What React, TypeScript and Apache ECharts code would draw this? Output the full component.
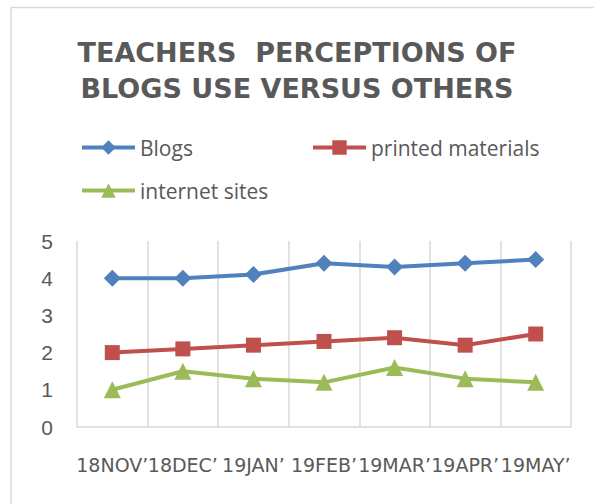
import React, { useEffect, useRef } from "react";
import * as echarts from "echarts";

const categories = ["18NOV’", "18DEC’", "19JAN’", "19FEB’", "19MAR’", "19APR’", "19MAY’"];
const blogs = [4.0, 4.0, 4.1, 4.4, 4.3, 4.4, 4.5];
const printedMaterials = [2.0, 2.1, 2.2, 2.3, 2.4, 2.2, 2.5];
const internetSites = [1.0, 1.5, 1.3, 1.2, 1.6, 1.3, 1.2];
const titleText = "TEACHERS  PERCEPTIONS OF\nBLOGS USE VERSUS OTHERS";

export default function App() {
  const ref = useRef<HTMLDivElement>(null);
  useEffect(() => {
    document.body.style.margin = "0";
    const chart = echarts.init(ref.current!, null, { renderer: "svg" });
    const textColor = "#595959";
    const legendText = { color: textColor, fontSize: 21, fontFamily: "Open Sans" };
    const legendCommon = {
      itemWidth: 53,
      itemHeight: 18,
      itemGap: 5,
      padding: 0,
      lineStyle: { width: 4 },
      textStyle: legendText,
    };
    chart.setOption({
      animation: false,
      backgroundColor: "#ffffff",
      graphic: [
        {
          type: "rect",
          shape: { x: 11, y: 7.5, width: 620, height: 540 },
          style: { fill: "none", stroke: "#d9d9d9", lineWidth: 1.5 },
          silent: true,
        },
      ],
      title: {
        text: titleText,
        left: "center",
        top: 29,
        textStyle: {
          color: textColor,
          fontSize: 27,
          fontWeight: "bold",
          fontFamily: "DejaVu Sans",
          lineHeight: 36,
        },
      },
      legend: [
        { data: ["Blogs"], left: 80, top: 137, ...legendCommon },
        { data: ["printed materials"], left: 311, top: 137, ...legendCommon },
        { data: ["internet sites"], left: 80, top: 180, ...legendCommon },
      ],
      grid: { left: 77, right: 23, top: 241, bottom: 77 },
      xAxis: {
        type: "category",
        data: categories,
        boundaryGap: true,
        axisLine: { show: true, lineStyle: { color: "#d9d9d9", width: 1.5 } },
        axisTick: { show: false },
        splitLine: { show: true, lineStyle: { color: "#d9d9d9", width: 1.5 } },
        axisLabel: {
          color: textColor,
          fontSize: 19,
          fontFamily: "DejaVu Sans",
          margin: 28,
          interval: 0,
        },
      },
      yAxis: {
        type: "value",
        min: 0,
        max: 5,
        interval: 1,
        axisLine: { show: false },
        axisTick: { show: false },
        splitLine: { show: false },
        axisLabel: {
          color: textColor,
          fontSize: 21,
          fontFamily: "Liberation Sans",
          margin: 24,
        },
      },
      series: [
        {
          name: "Blogs",
          type: "line",
          data: blogs,
          symbol: "diamond",
          symbolSize: 17,
          lineStyle: { color: "#4F81BD", width: 4 },
          itemStyle: { color: "#4F81BD" },
        },
        {
          name: "printed materials",
          type: "line",
          data: printedMaterials,
          symbol: "rect",
          symbolSize: 15,
          lineStyle: { color: "#C0504D", width: 4 },
          itemStyle: { color: "#C0504D" },
        },
        {
          name: "internet sites",
          type: "line",
          data: internetSites,
          symbol: "triangle",
          symbolSize: 17,
          lineStyle: { color: "#9BBB59", width: 4 },
          itemStyle: { color: "#9BBB59" },
        },
      ],
    });
    return () => chart.dispose();
  }, []);
  return <div ref={ref} style={{ width: 594, height: 504 }} />;
}
